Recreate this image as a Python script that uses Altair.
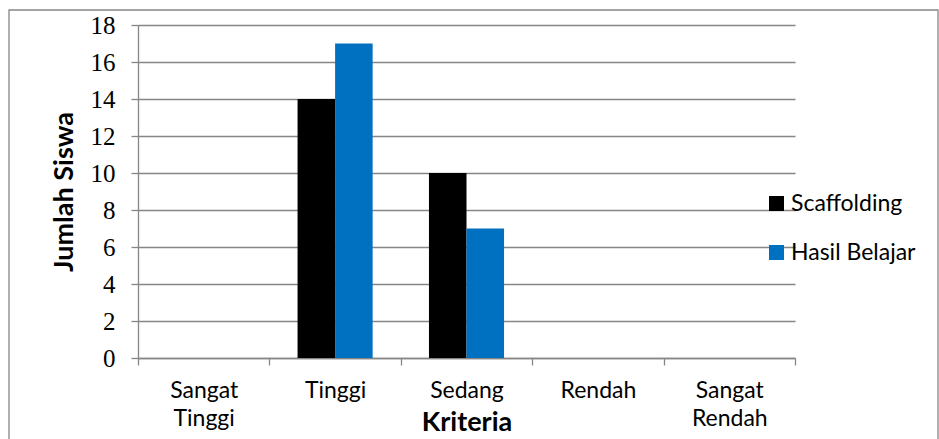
import altair as alt
import pandas as pd

categories = ["Sangat Tinggi", "Tinggi", "Sedang", "Rendah", "Sangat Rendah"]
series_names = ["Scaffolding", "Hasil Belajar"]
scaffolding = [0, 14, 10, 0, 0]
hasil_belajar = [0, 17, 7, 0, 0]
y_ticks = [0, 2, 4, 6, 8, 10, 12, 14, 16, 18]
colors = ["#000000", "#0070C0"]

rows = []
for c, a, b in zip(categories, scaffolding, hasil_belajar):
    rows.append({"Kriteria": c, "Seri": series_names[0], "Jumlah": a})
    rows.append({"Kriteria": c, "Seri": series_names[1], "Jumlah": b})
df = pd.DataFrame(rows)

GRAY = "#868686"

bars = alt.Chart(df).mark_bar().encode(
    x=alt.X("Kriteria:N", sort=categories,
            scale=alt.Scale(paddingInner=0, paddingOuter=0),
            axis=alt.Axis(title="Kriteria", tickBand="extent", labelAngle=0,
                          labelExpr="split(datum.label, ' ')",
                          labelFont="Lato", labelFontSize=23, labelColor="black",
                          labelLineHeight=28, labelPadding=14, labelBaseline="top",
                          tickSize=7, tickColor=GRAY, tickWidth=1.3,
                          domainColor=GRAY, domainWidth=1.3, grid=False,
                          titleFont="Lato", titleFontSize=27, titleFontWeight="bold",
                          titleColor="black", titleY=72, titleBaseline="alphabetic")),
    xOffset=alt.XOffset("Seri:N", sort=series_names,
                        scale=alt.Scale(paddingInner=0, paddingOuter=0.75)),
    y=alt.Y("Jumlah:Q", scale=alt.Scale(domain=[0, 18], nice=False),
            axis=alt.Axis(title="Jumlah Siswa", values=y_ticks,
                          labelFont="Liberation Serif", labelFontSize=25,
                          labelColor="black", labelPadding=16,
                          tickSize=7, tickColor=GRAY, tickWidth=1.3,
                          domainColor=GRAY, domainWidth=1.3,
                          grid=True, gridColor=GRAY, gridWidth=1.3,
                          titleFont="Lato", titleFontSize=27, titleFontWeight="bold",
                          titleColor="black", titleX=-66, titleBaseline="alphabetic")),
    color=alt.Color("Seri:N", sort=series_names,
                    scale=alt.Scale(domain=series_names, range=colors),
                    legend=alt.Legend(title=None, orient="none", legendX=627, legendY=167,
                                      symbolType="square", symbolSize=225,
                                      symbolStrokeWidth=0, symbolOpacity=1,
                                      labelFont="Lato", labelFontSize=23,
                                      labelColor="black", labelOffset=3,
                                      rowPadding=25)),
)

border = alt.Chart(alt.Data(values=[{"k": 1}])).mark_rect(
    fillOpacity=0, stroke=GRAY, strokeWidth=1.3
).encode(
    x=alt.value(-129), x2=alt.value(800), y=alt.value(-15), y2=alt.value(430)
)

chart = alt.layer(bars, border).properties(
    width=657, height=333,
    autosize=alt.AutoSizeParams(type="none"),
    padding={"left": 138, "top": 25, "right": 144, "bottom": 81},
    background="white",
).configure_view(stroke=None)

chart.save("out.html", embed_options={"renderer": "svg", "actions": False})
